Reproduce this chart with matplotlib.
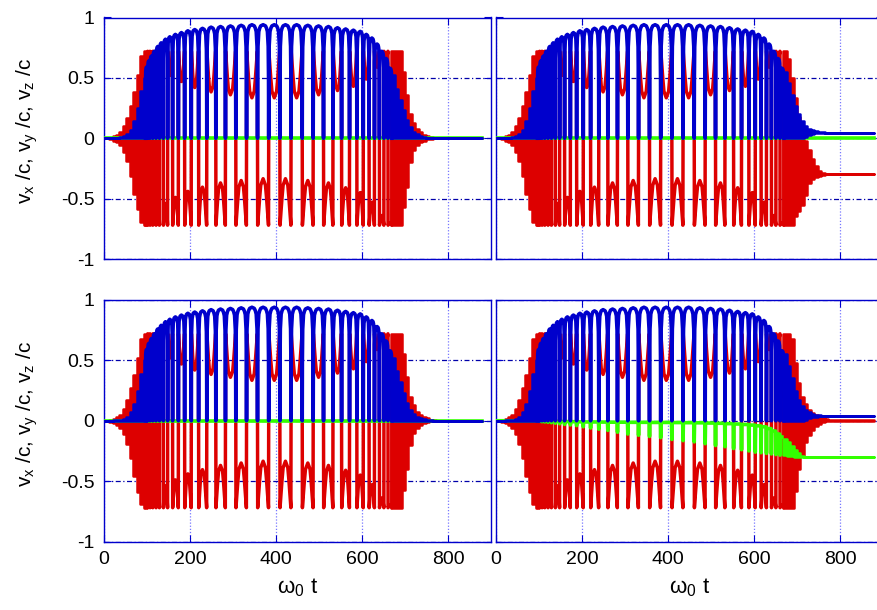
import numpy as np
import matplotlib
matplotlib.use("Agg")
import matplotlib.pyplot as plt

plt.rcParams['font.family'] = ['Liberation Sans', 'DejaVu Sans']
plt.rcParams['mathtext.default'] = 'regular'
plt.rcParams['axes.unicode_minus'] = False

RED = '#dd0000'
BLUE = '#0000cc'
GREEN = '#33ff00'
AXCOL = '#0000cc'

T_END = 878

# times of the blue maxima (one per half cycle), with the
# blue peak height and the red "hump" level at each of them
peak_t = [99, 104, 110, 117, 125, 133, 143, 153, 166, 180, 195, 211, 229, 249,
          271, 294, 319, 344, 370, 396, 422, 448, 474, 499, 522, 543, 562, 580,
          596, 610, 623, 635, 646, 656, 665]
blue_peak = [0.59, 0.64, 0.68, 0.72, 0.76, 0.79, 0.82, 0.84, 0.86, 0.875, 0.89,
             0.90, 0.91, 0.92, 0.925, 0.93, 0.935, 0.94, 0.94, 0.94, 0.94, 0.94,
             0.935, 0.93, 0.925, 0.915, 0.905, 0.895, 0.885, 0.86, 0.83, 0.78,
             0.72, 0.66, 0.58]
red_hump = [0.70, 0.68, 0.66, 0.64, 0.60, 0.58, 0.54, 0.52, 0.49, 0.47, 0.44,
            0.42, 0.405, 0.384, 0.37, 0.36, 0.35, 0.335, 0.335, 0.335, 0.335,
            0.335, 0.35, 0.36, 0.37, 0.395, 0.41, 0.43, 0.45, 0.49, 0.53, 0.59,
            0.64, 0.67, 0.70]
red_top = 0.72

# shape of one half cycle, from the dip (0) to the blue maximum (1)
shape_x = [0, 0.03, 0.086, 0.23, 0.39, 0.58, 1.0]
blue_shape = [0, 0.54, 0.81, 0.94, 0.97, 0.99, 1.0]
red_shape = [0, 1, 0.9, 0.66, 0.4, 0.14, 0]

# pulse rise (oscillations too dense to resolve): envelopes
up_t = [0, 4, 12, 20, 28, 36, 44, 52, 60, 68, 76, 84, 92, 100]
red_up_hi = [0, 0, 0.005, 0.015, 0.03, 0.05, 0.10, 0.17, 0.27, 0.38, 0.52, 0.68, 0.72, 0.72]
red_up_lo = [0, 0, -0.01, -0.02, -0.035, -0.06, -0.11, -0.19, -0.31, -0.46, -0.59, -0.69, -0.72, -0.72]
blue_up_hi = [0, 0, 0, 0.003, 0.006, 0.01, 0.018, 0.035, 0.07, 0.14, 0.25, 0.39, 0.50, 0.58]

# pulse fall, per panel
dn_t = [668, 676, 684, 692, 700, 708, 716, 724, 732, 740, 748, 756, 764, 772, T_END]

red_dn_hi_a = [0.72, 0.72, 0.72, 0.55, 0.36, 0.20, 0.13, 0.075, 0.05, 0.03, 0.02, 0.01, 0.004, 0, 0]
red_dn_lo_a = [-0.72, -0.72, -0.72, -0.57, -0.40, -0.20, -0.10, -0.06, -0.035, -0.02, -0.01, -0.005, 0, 0, 0]
blue_dn_hi_a = [0.52, 0.41, 0.32, 0.23, 0.15, 0.09, 0.055, 0.035, 0.02, 0.012, 0.006, 0.003, 0, 0, 0]
blue_dn_lo_a = [0] * 15

red_dn_hi_b = [0.72, 0.66, 0.50, 0.33, 0.18, 0.06, -0.02, -0.10, -0.17, -0.23, -0.27, -0.29, -0.30, -0.30, -0.30]
red_dn_lo_b = [-0.72, -0.72, -0.72, -0.64, -0.60, -0.55, -0.47, -0.37, -0.335, -0.32, -0.31, -0.305, -0.30, -0.30, -0.30]
blue_dn_hi_b = [0.55, 0.46, 0.36, 0.27, 0.20, 0.14, 0.105, 0.08, 0.066, 0.057, 0.051, 0.048, 0.046, 0.045, 0.045]
blue_dn_lo_b = [0, 0, 0, 0, 0, 0, 0.01, 0.025, 0.035, 0.04, 0.043, 0.045, 0.045, 0.045, 0.045]

red_dn_hi_c = [0.72, 0.72, 0.68, 0.48, 0.31, 0.20, 0.14, 0.09, 0.065, 0.045, 0.03, 0.02, 0.012, 0.008, 0.005]
red_dn_lo_c = [-0.72, -0.72, -0.72, -0.58, -0.40, -0.28, -0.18, -0.12, -0.075, -0.045, -0.025, -0.012, -0.004, 0.002, 0.005]
blue_dn_hi_c = [0.55, 0.45, 0.35, 0.25, 0.17, 0.12, 0.09, 0.07, 0.055, 0.048, 0.044, 0.042, 0.04, 0.04, 0.04]
blue_dn_lo_c = [0, 0, 0, 0, 0, 0, 0.01, 0.02, 0.03, 0.035, 0.038, 0.04, 0.04, 0.04, 0.04]

# v_y of the last panel: level at each blue maximum and depth at each dip
green_base = [0, 0, 0, -0.002, -0.003, -0.004, -0.005, -0.006, -0.007, -0.008,
              -0.009, -0.01, -0.01, -0.011, -0.012, -0.012, -0.013, -0.013,
              -0.014, -0.014, -0.015, -0.016, -0.017, -0.019, -0.021, -0.024,
              -0.027, -0.031, -0.036, -0.042, -0.05, -0.065, -0.085, -0.11, -0.135]
green_dip = [-0.005, -0.008, -0.01, -0.013, -0.016, -0.02, -0.025, -0.03, -0.035,
             -0.04, -0.05, -0.06, -0.07, -0.08, -0.095, -0.11, -0.12, -0.13, -0.14,
             -0.155, -0.165, -0.175, -0.19, -0.205, -0.215, -0.23, -0.24, -0.25,
             -0.26, -0.265, -0.27, -0.275, -0.28, -0.285]
green_dn_hi = [-0.15, -0.18, -0.21, -0.245, -0.27, -0.29, -0.298, -0.30, -0.30, -0.30, -0.30, -0.30, -0.30, -0.30, -0.30]
green_dn_lo = [-0.285, -0.29, -0.295, -0.30, -0.30, -0.30, -0.30, -0.30, -0.30, -0.30, -0.30, -0.30, -0.30, -0.30, -0.30]


def half_cycles():
    p = np.asarray(peak_t, float)
    bounds = np.concatenate([[p[0] - (p[1] - p[0]) / 2], (p[:-1] + p[1:]) / 2,
                             [p[-1] + (p[-1] - p[-2]) / 2]])
    sx = np.asarray(shape_x)
    bs = np.concatenate([blue_shape, blue_shape[::-1][1:]])
    rs = np.concatenate([red_shape, red_shape[::-1][1:]])
    tt, bb, rr = [], [], []
    for k, pk in enumerate(p):
        L, R = bounds[k], bounds[k + 1]
        t = np.concatenate([L + sx * (pk - L), (R - sx * (R - pk))[::-1][1:]])
        sign = 1 if k % 2 else -1
        r = sign * (red_hump[k] + rs * (red_top - red_hump[k]))
        r[0] = r[-1] = 0
        tt.append(t)
        bb.append(blue_peak[k] * bs)
        rr.append(r)
    return np.concatenate(tt), np.concatenate(bb), np.concatenate(rr), bounds


def green_wiggle(bounds):
    w = 0.8
    t, v = [0], [0]
    for k, pk in enumerate(peak_t):
        t.append(pk)
        v.append(green_base[k])
        if k < len(green_dip):
            d = bounds[k + 1]
            t += [d - w, d, d + w]
            v += [green_base[k], green_dip[k], green_base[k + 1]]
    return t, v


t_osc, b_osc, r_osc, bounds = half_cycles()

panels = [
    dict(red=(red_dn_lo_a, red_dn_hi_a), blue=(blue_dn_lo_a, blue_dn_hi_a), green=None),
    dict(red=(red_dn_lo_b, red_dn_hi_b), blue=(blue_dn_lo_b, blue_dn_hi_b), green=None),
    dict(red=(red_dn_lo_a, red_dn_hi_a), blue=(blue_dn_lo_a, blue_dn_hi_a), green=None),
    dict(red=(red_dn_lo_c, red_dn_hi_c), blue=(blue_dn_lo_c, blue_dn_hi_c), green='wiggle'),
]

fig = plt.figure(figsize=(8.78, 6.10), dpi=100)
W, H = 878, 610
lefts = [104, 496]
bottoms = [259, 541.5]
aw, ah = 387, 241.5

for i, cfg in enumerate(panels):
    row, col = divmod(i, 2)
    ax = fig.add_axes([lefts[col] / W, 1 - bottoms[row] / H, aw / W, ah / H])
    ax.set_axisbelow(True)

    # v_x
    ax.fill_between(up_t, red_up_lo, red_up_hi, step='post', color=RED, lw=1.8, zorder=2)
    ax.plot(t_osc, r_osc, color=RED, lw=2.5, zorder=2)
    ax.fill_between(dn_t, cfg['red'][0], cfg['red'][1], step='post', color=RED, lw=1.8, zorder=2)

    # v_y
    if cfg['green'] is None:
        ax.plot([0, T_END], [0, 0], color=GREEN, lw=2.6, zorder=3)
    else:
        gt, gv = green_wiggle(bounds)
        ax.plot(gt, gv, color=GREEN, lw=2.6, zorder=3)
        ax.fill_between(dn_t, green_dn_lo, green_dn_hi, step='post', color=GREEN, lw=1.8, zorder=3)

    # v_z
    ax.fill_between(up_t, 0, blue_up_hi, step='post', color=BLUE, lw=1.8, zorder=4)
    ax.plot(t_osc, b_osc, color=BLUE, lw=2.6, zorder=4)
    ax.fill_between(dn_t, cfg['blue'][0], cfg['blue'][1], step='post', color=BLUE, lw=1.8, zorder=4)

    ax.set_xlim(0, 900)
    ax.set_ylim(-1, 1)
    ax.set_xticks([0, 200, 400, 600, 800])
    ax.set_yticks([-1, -0.5, 0, 0.5, 1])
    ax.tick_params(direction='in', length=5, color=AXCOL, top=True, right=True,
                   labelsize=14, pad=7)
    for s in ax.spines.values():
        s.set_color(AXCOL)
        s.set_linewidth(1.0)
    ax.yaxis.grid(True, color='#0000aa', lw=0.9, linestyle=(0, (4, 2, 1, 2)))
    ax.xaxis.grid(True, color='#7777ff', lw=0.9, linestyle=(0, (1, 1.5)))

    if col == 0:
        ax.set_yticklabels(['-1', '-0.5', '0', '0.5', '1'])
        ax.set_ylabel('v$_x$ /c, v$_y$ /c, v$_z$ /c', fontsize=15)
        ax.yaxis.set_label_coords(-0.165, 0.53)
    else:
        ax.set_yticklabels([])
    if row == 1:
        ax.set_xticklabels(['0', '200', '400', '600', '800'])
        ax.set_xlabel('ω$_0$ t', fontsize=16, labelpad=6)
    else:
        ax.set_xticklabels([])

fig.savefig('out.png', dpi=100)
